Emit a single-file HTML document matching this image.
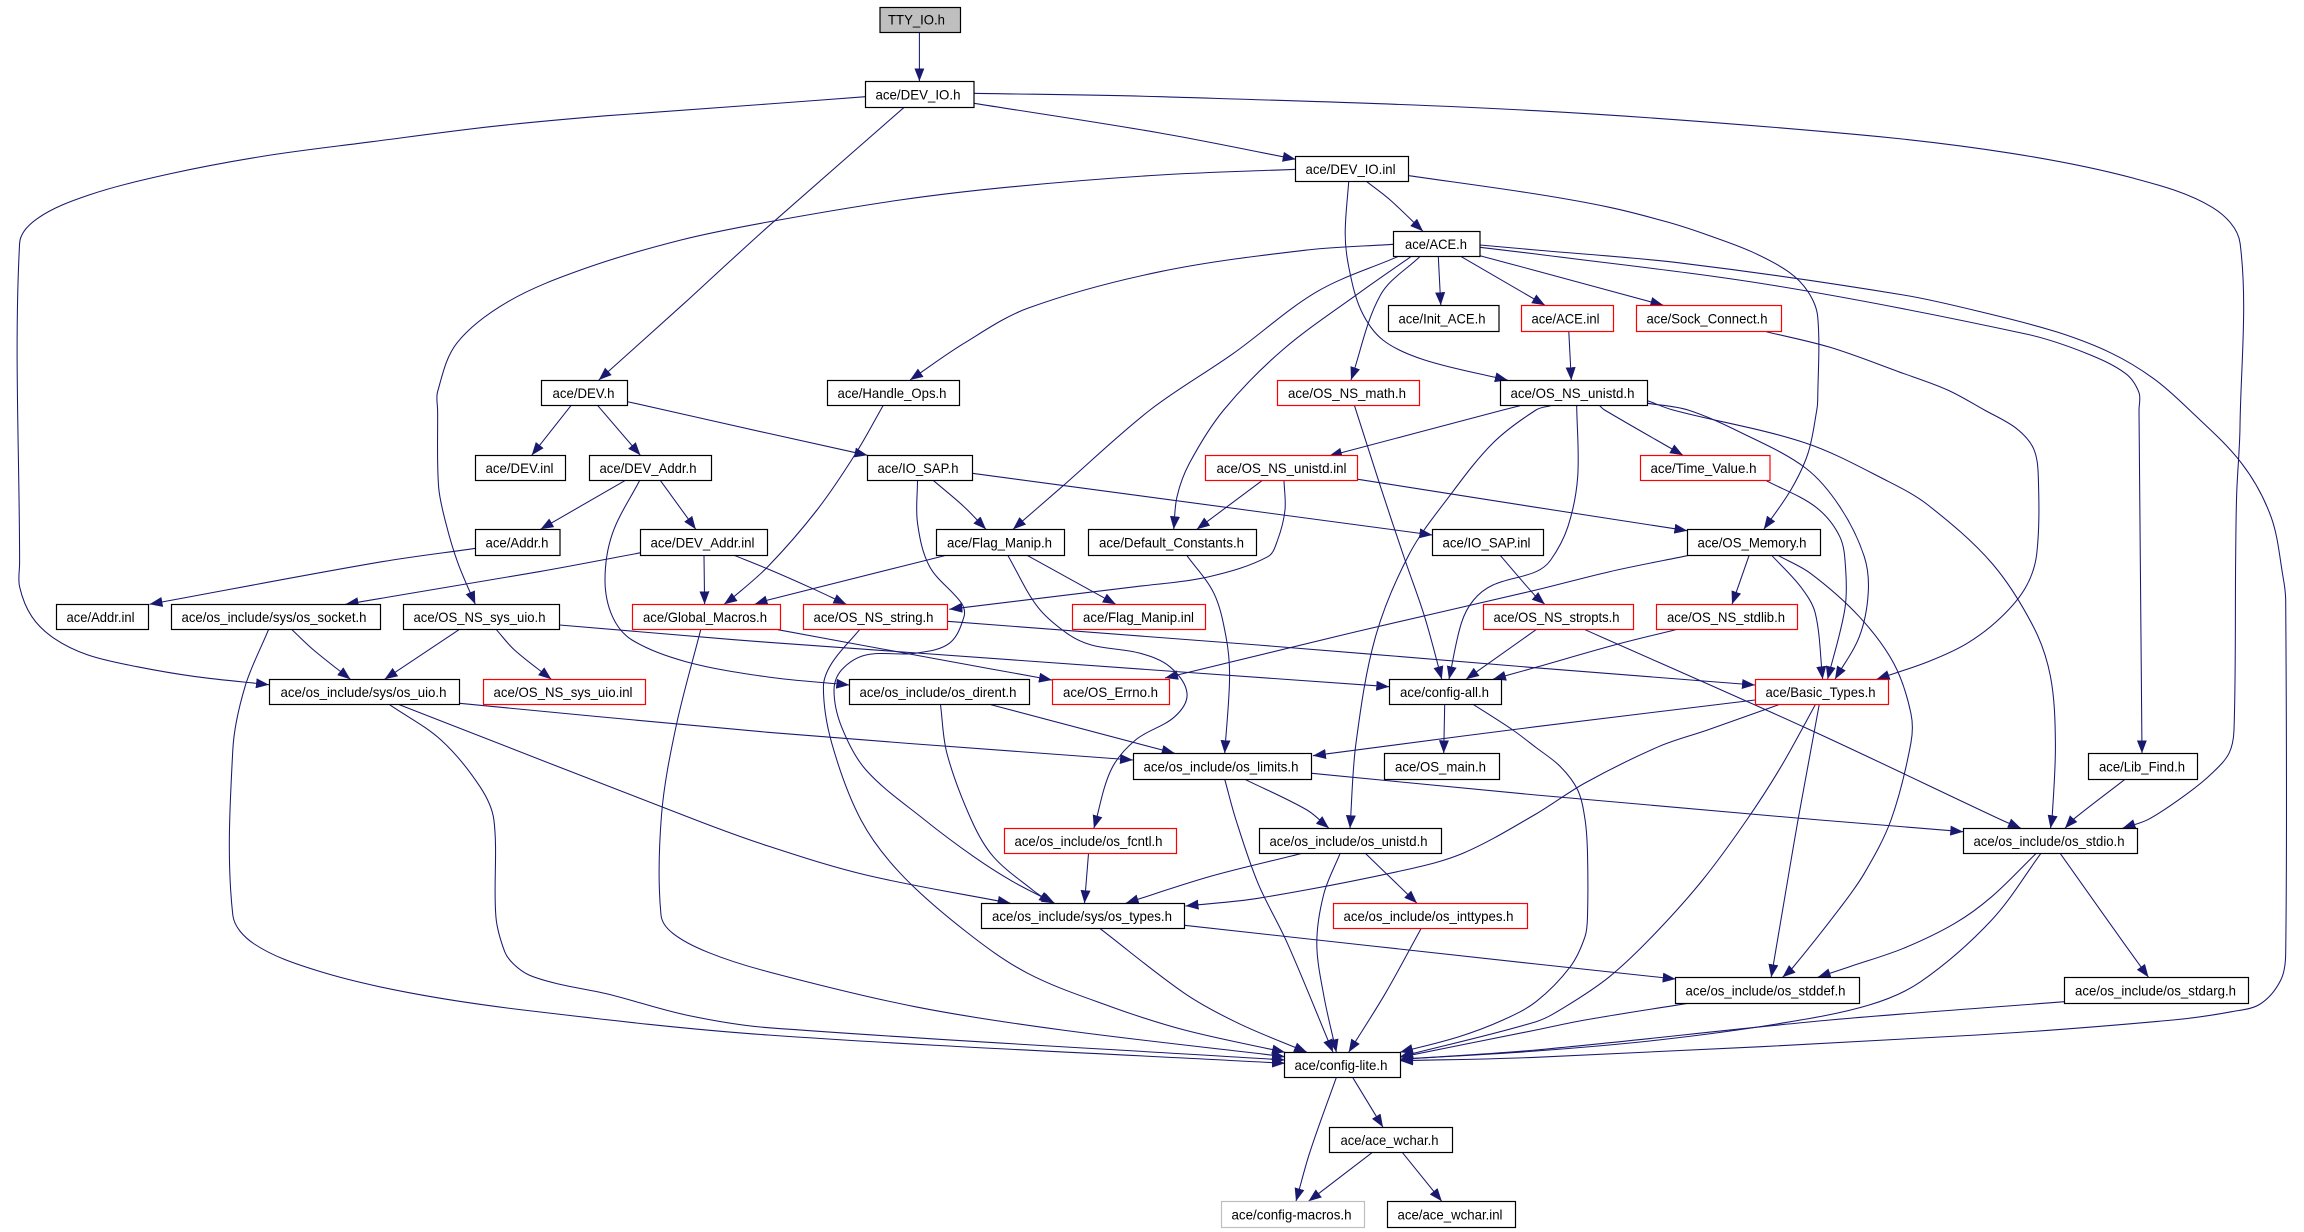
<!DOCTYPE html>
<html><head><meta charset="utf-8"><title>TTY_IO.h include graph</title>
<style>html,body{margin:0;padding:0;background:#fff}svg{display:block}
.e polyline,.e path{fill:none;stroke:#191970;stroke-width:1.05;stroke-linejoin:round;marker-end:url(#a)}
.n rect{fill:#fff;stroke:#000;stroke-width:1.2}
.n rect.r{stroke:#f00}.n rect.g{stroke:#bfbfbf}.n rect.t{fill:#bfbfbf}
.n text{font-family:"Liberation Sans",sans-serif;font-size:14px;fill:#000}
</style></head><body>
<svg xmlns="http://www.w3.org/2000/svg" width="2304" height="1232" viewBox="0 0 2304 1232">
<defs><marker id="a" markerUnits="userSpaceOnUse" markerWidth="14" markerHeight="11" refX="13" refY="5" orient="auto"><path d="M0,0L13,5L0,10z" fill="#191970"/></marker></defs>
<rect width="2304" height="1232" fill="#fff"/>
<g class="e" id="edges">
<polyline points="919.4,32.7 919.4,81.3"/>
<polyline points="865.5,96.7 768,104 607,115.7 490,126.7 372,141.7 264.6,156 169,174 89,195 37.7,218.3 19.6,243.3 19.6,563 19.6,586.7 31.9,616.7 54,638.3 88,655 137,666.7 196,676.7 269,684.7"/>
<polyline points="904.2,107.3 768,226.7 715,275 686,301.7 598.8,380"/>
<polyline points="974,103.3 1160,133 1295.7,159.3"/>
<polyline points="973.8,93.3 1160,96.7 1536,110.7 1854.5,134.3 2011.3,153.3 2133.8,178.3 2212.2,207.3 2240.1,243.3 2240,426.7 2236.7,493.3 2235.7,553.3 2234,730 2229,753.3 2212,773.3 2187.7,793.3 2148.5,819.3 2122.5,828.3"/>
<polyline points="1295.7,169.3 1160,175 1013,186.7 900,200 768,222 681,240 585.5,268.3 508,301.7 456.7,343.3 437.6,391.7 437.6,410 438.6,486.7 445.9,523.3 458,563.3 475.3,604.3"/>
<polyline points="1366.8,181.7 1390.2,200 1423,231.3"/>
<polyline points="1348.7,181.7 1345.2,233.3 1348.7,266.7 1360.9,310 1382.9,340 1424.6,360 1507.9,380.3"/>
<polyline points="1408.9,175.7 1536,194 1609.5,207.3 1668.3,222.3 1707.5,235 1751.6,251.7 1788.4,271.7 1808,291.7 1817.7,316.7 1817.7,400 1816.8,410 1808,453.3 1790.8,490 1763.8,529.3"/>
<polyline points="1393.7,244.3 1307,250 1160,271.7 1027.7,308.3 964,343.3 910,380"/>
<polyline points="1397.7,256.7 1316.9,291.7 1233.5,353.3 1150,410 1062,486.7 1013,529.3"/>
<polyline points="1410.9,256.7 1360.9,291.7 1282.5,350 1223.7,410 1189.4,463.3 1177,496.7 1173.7,529.3"/>
<polyline points="1419.7,256.7 1380.5,295 1351,380"/>
<polyline points="1438.3,256.7 1440.8,305.3"/>
<polyline points="1461.3,256.7 1545,305.3"/>
<polyline points="1480,255.7 1536,270.7 1663.4,305.3"/>
<polyline points="1480,247.3 1536,254 1771,285 2026,334 2084.9,352.7 2125.3,373.3 2139,392.7 2139,410 2142,753.3"/>
<polyline points="1480,245 1536,250 1683,263.3 1903.5,295 1986.7,313.3 2057.9,332.3 2111.6,353.3 2153.2,378.3 2187.7,408.3 2241.6,463.3 2271,516.7 2283,576.7 2285.7,600 2285.7,953 2280.8,980 2260.2,1004 2231.8,1011.7 2173,1020 1977,1035 1536,1057.3 1400,1060.7"/>
<polyline points="1568.8,331.7 1571.3,380.3"/>
<polyline points="1766.3,331.7 1830,347.3 1898.6,371.7 1947.6,390 1984.4,410 2016.2,428.3 2033.4,448.3 2038.3,476.7 2036.8,553.3 2026,586.7 2001.6,616.7 1967.2,643.3 1928,661.7 1876.6,679.3"/>
<polyline points="883,405.7 856,453 817,510 768,566.5 730,600 724,604.3"/>
<polyline points="1354.5,405.7 1380.5,486.7 1405,560 1424.6,616.7 1441.8,679.3"/>
<polyline points="1520,405.7 1503,410 1329,456"/>
<polyline points="1550.7,405.7 1536,410 1493,443 1449,496.7 1409.7,553.3 1375.5,636.7 1356,743 1350,828.3"/>
<polyline points="1576.7,405.7 1577.7,476.7 1567.9,526.7 1550.7,560 1536,571.7 1493,585 1473.6,600 1461.3,623.3 1449,679.3"/>
<polyline points="1599.7,405.7 1604.6,410 1683,455.3"/>
<polyline points="1647.7,403.3 1688,410 1741.8,433 1805.5,468 1839.8,506.7 1864.3,556.7 1868.2,593.3 1859.3,636.7 1835,679.3"/>
<polyline points="1647.7,400.7 1673,410 1805.5,443 1888.8,481.7 1928,505 1991.7,563 2033.4,626.7 2050.5,676.7 2055.4,743 2052,819.3 2050.5,828.3"/>
<polyline points="1766.3,480.7 1815.3,506.7 1839.8,536.7 1845.7,570 1844.7,610 1827.6,679.3"/>
<polyline points="1261.9,480.7 1196.8,529.3"/>
<polyline points="1284,480.7 1285,510 1277.6,540 1267.8,556.7 1209,576.7 1135.5,586.7 949.3,609.3"/>
<polyline points="1358,479.3 1536,507.3 1687.4,530.7"/>
<polyline points="933.6,480.7 964,506.7 986,529.3"/>
<polyline points="972.3,473.3 1432.4,535"/>
<polyline points="917.5,480.7 917.5,523 929.7,566.7 961.6,603.3 964,616.7 949.3,643.3 915,653.3 866,655 841.5,670 834,690 841.5,726.7 866,770 924.8,820 973.8,856.7 1013,881.7 1054.7,903.3"/>
<polyline points="570.9,405.7 531.7,455.3"/>
<polyline points="597.8,405.7 640.4,455.3"/>
<polyline points="627.7,401.7 768,433.3 867.5,455.3"/>
<polyline points="624.8,480.7 540.5,529.3"/>
<polyline points="660.5,480.7 695.8,529.3"/>
<polyline points="639.5,480.7 612.5,533.3 605,580 612.5,616.7 632,640 686,661.7 768,677 849.3,685"/>
<polyline points="475.8,548.3 382,561.7 149.5,604.3"/>
<polyline points="640.9,552.7 539,571.7 345.5,604.3"/>
<polyline points="704,555.7 704.6,604.3"/>
<polyline points="735,555.7 768,569 812,588.3 846.4,604.3"/>
<polyline points="944.4,555.7 768,600 754.6,604.3"/>
<polyline points="1027.7,555.7 1115.8,604.3"/>
<polyline points="1008,555.7 1037.5,606.7 1066.9,633.3 1091.3,645 1140.2,653.3 1169.8,666.7 1187,693.3 1174.7,716.7 1135.5,740 1111,770 1093.9,828.3"/>
<polyline points="1187,555.7 1213.9,593.3 1226,636.7 1229.6,676.7 1224.7,753.3"/>
<polyline points="1500.5,555.7 1536,596.7 1544.8,604.3"/>
<polyline points="1687.4,555.7 1609.5,571.7 1536,590 1356,631.7 1165,678"/>
<polyline points="1749,555.7 1732,604.3"/>
<polyline points="1772,555.7 1800.6,586.7 1815.3,613.3 1822.7,679.3"/>
<polyline points="1778.6,555.7 1810.4,573.3 1859.3,616.7 1893.7,663.3 1910.9,713.3 1910.9,743 1891,820 1864.3,873.3 1839.8,908.3 1790.8,970 1782.5,977.3"/>
<polyline points="777.8,629.7 915,655 1052,680"/>
<polyline points="859.6,629.7 831.7,663.3 823.4,686.7 831.7,743 861,820 900.3,873.3 964,930 1027.7,973.3 1111,1006.7 1184.5,1030 1285,1052.3"/>
<polyline points="947.3,621.3 1258,645 1536,667.8 1755,685"/>
<polyline points="700.7,629.7 676,726.7 661.5,815 661,915 672.8,933.3 708,952.3 768,971.7 915,1006.7 1062,1030 1285,1056.7"/>
<polyline points="459,629.7 384.6,679.3"/>
<polyline points="496.4,629.7 514.5,650 551.3,679.3"/>
<polyline points="559.6,625 768,642.3 1389.3,686.7"/>
<polyline points="292,629.7 313.6,650 350.4,679.3"/>
<polyline points="268.5,629.7 245,686.7 232.8,750 232.8,915 254.3,944 316,970.3 409,992.7 531.7,1011 768,1035 1285,1063.3"/>
<polyline points="459.6,703.3 768,732.3 1133,760"/>
<polyline points="399.4,704.7 695.8,820 768,846 866,875 1010.6,903.3"/>
<polyline points="389.6,704.7 441,740 480,786.7 493.9,820 495.9,916.7 504.7,951.7 513.5,964 529,975 558.6,984 607.6,994 686,1015 768,1027.7 1285,1060"/>
<polyline points="991,704.7 1174.7,753.3"/>
<polyline points="940.5,704.7 946.9,753.3 971.4,820 993.4,856.7 1032.6,890 1052,903.3"/>
<polyline points="1444.7,704.7 1443.7,753.3"/>
<polyline points="1473.6,704.7 1512.8,730 1536,747.5 1560.5,766.7 1577.7,790 1585,819.3 1587.5,853 1587.5,916.7 1585,936.7 1570.3,966.7 1536,1001.7 1503,1020 1458.9,1036.7 1400,1052.3"/>
<polyline points="1536,629.7 1466,679.3"/>
<polyline points="1675.6,629.7 1614.4,645 1536,667.3 1493,679.3"/>
<polyline points="1585,629.7 1810.4,730 2001.6,820 2021,828.3"/>
<polyline points="1755,700 1536,726.7 1312.9,755.7"/>
<polyline points="1778.6,704.7 1707.5,730 1658.5,746.7 1585,783 1536,814 1463.6,853 1405,870 1258,898.3 1185.5,906"/>
<polyline points="1815.3,704.7 1781,766.7 1746.7,820 1702.6,880 1653.6,935 1609.5,976.7 1565.4,1006.7 1536,1021.7 1400,1056.7"/>
<polyline points="1819.2,704.7 1798,820 1771.2,977.3"/>
<polyline points="1311.9,773.3 1536,795 1820,820 1963.3,831.7"/>
<polyline points="1244.8,779.3 1307,810 1329,828.3"/>
<polyline points="1224.7,779.3 1236,820 1258,883.3 1287.4,943.3 1333,1052.3"/>
<polyline points="2125,779.3 2072.5,820 2065,828.3"/>
<polyline points="1088.5,853.7 1084.5,903.3"/>
<polyline points="1300.6,853.7 1209,876.7 1125.7,903.3"/>
<polyline points="1340,853.7 1324,893.3 1316.8,943.3 1324,996.7 1336.4,1052.3"/>
<polyline points="1365.8,853.7 1405,891.7 1417,903.3"/>
<polyline points="1421,928.7 1385.4,993.3 1348.7,1052.3"/>
<polyline points="1100.2,928.7 1184.5,993.3 1238.4,1023.3 1307,1052.3"/>
<polyline points="1184.5,925.3 1536,964 1675.7,979"/>
<polyline points="1687.9,1003.3 1585,1020 1536,1030 1400,1057.3"/>
<polyline points="2035.8,853.7 1991.7,896.7 1954.9,923.3 1903.5,948.3 1849.6,966.7 1817.7,977.3"/>
<polyline points="2040.7,853.7 1991.7,920 1920.7,981.7 1869.2,1005 1781,1023.3 1658.5,1040 1536,1051 1400,1059.3"/>
<polyline points="2060.4,853.7 2124,943.3 2148.5,977.3"/>
<polyline points="2064.7,1001.7 1830,1020 1536,1050 1400,1059.3"/>
<polyline points="1336.4,1077.3 1309.5,1153.3 1296,1201.3"/>
<polyline points="1352.6,1077.3 1383,1127.3"/>
<polyline points="1372,1152.7 1308.5,1201.3"/>
<polyline points="1402.5,1152.7 1441.8,1201.3"/>
</g>
<g class="n">
<rect class="t" x="880" y="7.5" width="80.5" height="25"/><text x="888" y="24.5" textLength="57" lengthAdjust="spacingAndGlyphs">TTY_IO.h</text>
<rect x="865.5" y="81.5" width="108.5" height="26"/><text x="875.5" y="99.5" textLength="85" lengthAdjust="spacingAndGlyphs">ace/DEV_IO.h</text>
<rect x="1295.5" y="156.5" width="113" height="25"/><text x="1305.5" y="174" textLength="90" lengthAdjust="spacingAndGlyphs">ace/DEV_IO.inl</text>
<rect x="1393.5" y="231.5" width="86.5" height="25"/><text x="1405" y="249" textLength="62" lengthAdjust="spacingAndGlyphs">ace/ACE.h</text>
<rect x="1388.5" y="305.5" width="110.5" height="26"/><text x="1398.5" y="323.5" textLength="87" lengthAdjust="spacingAndGlyphs">ace/Init_ACE.h</text>
<rect class="r" x="1521.5" y="305.5" width="92" height="26"/><text x="1531.5" y="323.5" textLength="68" lengthAdjust="spacingAndGlyphs">ace/ACE.inl</text>
<rect class="r" x="1636.5" y="305.5" width="145" height="26"/><text x="1646.5" y="323.5" textLength="121" lengthAdjust="spacingAndGlyphs">ace/Sock_Connect.h</text>
<rect x="827.5" y="380.5" width="132" height="25"/><text x="837.5" y="398" textLength="109" lengthAdjust="spacingAndGlyphs">ace/Handle_Ops.h</text>
<rect class="r" x="1277.5" y="380.5" width="142" height="25"/><text x="1288" y="398" textLength="118" lengthAdjust="spacingAndGlyphs">ace/OS_NS_math.h</text>
<rect x="1500.5" y="380.5" width="147" height="25"/><text x="1510.5" y="398" textLength="124" lengthAdjust="spacingAndGlyphs">ace/OS_NS_unistd.h</text>
<rect x="541.5" y="380.5" width="86" height="25"/><text x="552.5" y="398" textLength="62" lengthAdjust="spacingAndGlyphs">ace/DEV.h</text>
<rect x="475.5" y="455.5" width="90" height="25"/><text x="485.5" y="473" textLength="68" lengthAdjust="spacingAndGlyphs">ace/DEV.inl</text>
<rect x="589.5" y="455.5" width="122" height="25"/><text x="599.5" y="473" textLength="97" lengthAdjust="spacingAndGlyphs">ace/DEV_Addr.h</text>
<rect x="867.5" y="455.5" width="105" height="25"/><text x="877.5" y="473" textLength="81" lengthAdjust="spacingAndGlyphs">ace/IO_SAP.h</text>
<rect class="r" x="1205.5" y="455.5" width="152" height="25"/><text x="1216.5" y="473" textLength="130" lengthAdjust="spacingAndGlyphs">ace/OS_NS_unistd.inl</text>
<rect class="r" x="1640.5" y="455.5" width="129.5" height="25"/><text x="1650.5" y="473" textLength="106" lengthAdjust="spacingAndGlyphs">ace/Time_Value.h</text>
<rect x="475.5" y="529.5" width="84.5" height="26"/><text x="485.5" y="547.5" textLength="63" lengthAdjust="spacingAndGlyphs">ace/Addr.h</text>
<rect x="640.5" y="529.5" width="127" height="26"/><text x="650.5" y="547.5" textLength="104" lengthAdjust="spacingAndGlyphs">ace/DEV_Addr.inl</text>
<rect x="936.5" y="529.5" width="128" height="26"/><text x="947" y="547.5" textLength="105" lengthAdjust="spacingAndGlyphs">ace/Flag_Manip.h</text>
<rect x="1088.5" y="529.5" width="168" height="26"/><text x="1099" y="547.5" textLength="145" lengthAdjust="spacingAndGlyphs">ace/Default_Constants.h</text>
<rect x="1432.5" y="529.5" width="111" height="26"/><text x="1442.5" y="547.5" textLength="88" lengthAdjust="spacingAndGlyphs">ace/IO_SAP.inl</text>
<rect x="1687.5" y="529.5" width="133" height="26"/><text x="1697.5" y="547.5" textLength="109" lengthAdjust="spacingAndGlyphs">ace/OS_Memory.h</text>
<rect x="56.5" y="604.5" width="92" height="25"/><text x="66.5" y="622" textLength="68" lengthAdjust="spacingAndGlyphs">ace/Addr.inl</text>
<rect x="171.5" y="604.5" width="209" height="25"/><text x="181.5" y="622" textLength="185" lengthAdjust="spacingAndGlyphs">ace/os_include/sys/os_socket.h</text>
<rect x="403.5" y="604.5" width="156" height="25"/><text x="413.5" y="622" textLength="132" lengthAdjust="spacingAndGlyphs">ace/OS_NS_sys_uio.h</text>
<rect class="r" x="632.5" y="604.5" width="148" height="25"/><text x="643" y="622" textLength="124" lengthAdjust="spacingAndGlyphs">ace/Global_Macros.h</text>
<rect class="r" x="803.5" y="604.5" width="144" height="25"/><text x="813.5" y="622" textLength="120" lengthAdjust="spacingAndGlyphs">ace/OS_NS_string.h</text>
<rect class="r" x="1072.5" y="604.5" width="133" height="25"/><text x="1083" y="622" textLength="111" lengthAdjust="spacingAndGlyphs">ace/Flag_Manip.inl</text>
<rect class="r" x="1483.5" y="604.5" width="150" height="25"/><text x="1493.5" y="622" textLength="126" lengthAdjust="spacingAndGlyphs">ace/OS_NS_stropts.h</text>
<rect class="r" x="1656.5" y="604.5" width="141" height="25"/><text x="1667" y="622" textLength="118" lengthAdjust="spacingAndGlyphs">ace/OS_NS_stdlib.h</text>
<rect x="269.5" y="679.5" width="190" height="25"/><text x="280.5" y="697" textLength="166" lengthAdjust="spacingAndGlyphs">ace/os_include/sys/os_uio.h</text>
<rect class="r" x="483.5" y="679.5" width="162" height="25"/><text x="493.5" y="697" textLength="139" lengthAdjust="spacingAndGlyphs">ace/OS_NS_sys_uio.inl</text>
<rect x="849.5" y="679.5" width="180" height="25"/><text x="859.5" y="697" textLength="157" lengthAdjust="spacingAndGlyphs">ace/os_include/os_dirent.h</text>
<rect class="r" x="1052.5" y="679.5" width="117" height="25"/><text x="1063" y="697" textLength="95" lengthAdjust="spacingAndGlyphs">ace/OS_Errno.h</text>
<rect x="1389.5" y="679.5" width="112" height="25"/><text x="1400" y="697" textLength="89" lengthAdjust="spacingAndGlyphs">ace/config-all.h</text>
<rect class="r" x="1755.5" y="679.5" width="133" height="25"/><text x="1765.5" y="697" textLength="110" lengthAdjust="spacingAndGlyphs">ace/Basic_Types.h</text>
<rect x="1133.5" y="753.5" width="178" height="26"/><text x="1143.5" y="771.5" textLength="155" lengthAdjust="spacingAndGlyphs">ace/os_include/os_limits.h</text>
<rect x="1384.5" y="753.5" width="115" height="26"/><text x="1395" y="771.5" textLength="91" lengthAdjust="spacingAndGlyphs">ace/OS_main.h</text>
<rect x="2088.5" y="753.5" width="109" height="26"/><text x="2099" y="771.5" textLength="86" lengthAdjust="spacingAndGlyphs">ace/Lib_Find.h</text>
<rect class="r" x="1004.5" y="828.5" width="172" height="25"/><text x="1014.5" y="846" textLength="148" lengthAdjust="spacingAndGlyphs">ace/os_include/os_fcntl.h</text>
<rect x="1259.5" y="828.5" width="182" height="25"/><text x="1269.5" y="846" textLength="158" lengthAdjust="spacingAndGlyphs">ace/os_include/os_unistd.h</text>
<rect x="1963.5" y="828.5" width="174" height="25"/><text x="1973.5" y="846" textLength="151" lengthAdjust="spacingAndGlyphs">ace/os_include/os_stdio.h</text>
<rect x="981.5" y="903.5" width="203" height="25"/><text x="992" y="921" textLength="180" lengthAdjust="spacingAndGlyphs">ace/os_include/sys/os_types.h</text>
<rect class="r" x="1333.5" y="903.5" width="194" height="25"/><text x="1343.5" y="921" textLength="170" lengthAdjust="spacingAndGlyphs">ace/os_include/os_inttypes.h</text>
<rect x="1675.5" y="977.5" width="184" height="26"/><text x="1685.5" y="995.5" textLength="160" lengthAdjust="spacingAndGlyphs">ace/os_include/os_stddef.h</text>
<rect x="2064.5" y="977.5" width="184" height="26"/><text x="2075" y="995.5" textLength="161" lengthAdjust="spacingAndGlyphs">ace/os_include/os_stdarg.h</text>
<rect x="1284.5" y="1052.5" width="116" height="25"/><text x="1294.5" y="1070" textLength="93" lengthAdjust="spacingAndGlyphs">ace/config-lite.h</text>
<rect x="1329.5" y="1127.5" width="123" height="25"/><text x="1340.5" y="1145" textLength="98" lengthAdjust="spacingAndGlyphs">ace/ace_wchar.h</text>
<rect class="g" x="1221.5" y="1201.5" width="143" height="26"/><text x="1231.5" y="1219.5" textLength="120" lengthAdjust="spacingAndGlyphs">ace/config-macros.h</text>
<rect x="1387.5" y="1201.5" width="128" height="26"/><text x="1397.5" y="1219.5" textLength="105" lengthAdjust="spacingAndGlyphs">ace/ace_wchar.inl</text>
</g>
</svg>
<script>
(function(){
var g=document.getElementById('edges'),ls=[].slice.call(g.querySelectorAll('polyline'));
ls.forEach(function(l){
var p=l.getAttribute('points').trim().split(/\s+/).map(function(s){return s.split(',').map(Number)}),n=p.length;
if(n<3)return;
function dir(a,b){var x=b[0]-a[0],y=b[1]-a[1],m=Math.hypot(x,y)||1;return [x/m,y/m]}
var t=p.map(function(q,i){return dir(p[Math.max(i-1,0)],p[Math.min(i+1,n-1)])});
var d='M'+p[0][0]+','+p[0][1];
for(var i=0;i<n-1;i++){var L=Math.hypot(p[i+1][0]-p[i][0],p[i+1][1]-p[i][1])/3;
d+='C'+(p[i][0]+t[i][0]*L).toFixed(1)+','+(p[i][1]+t[i][1]*L).toFixed(1)+' '+(p[i+1][0]-t[i+1][0]*L).toFixed(1)+','+(p[i+1][1]-t[i+1][1]*L).toFixed(1)+' '+p[i+1][0]+','+p[i+1][1];}
var e=document.createElementNS('http://www.w3.org/2000/svg','path');e.setAttribute('d',d);g.replaceChild(e,l);
});
})();
</script>
</body></html>
